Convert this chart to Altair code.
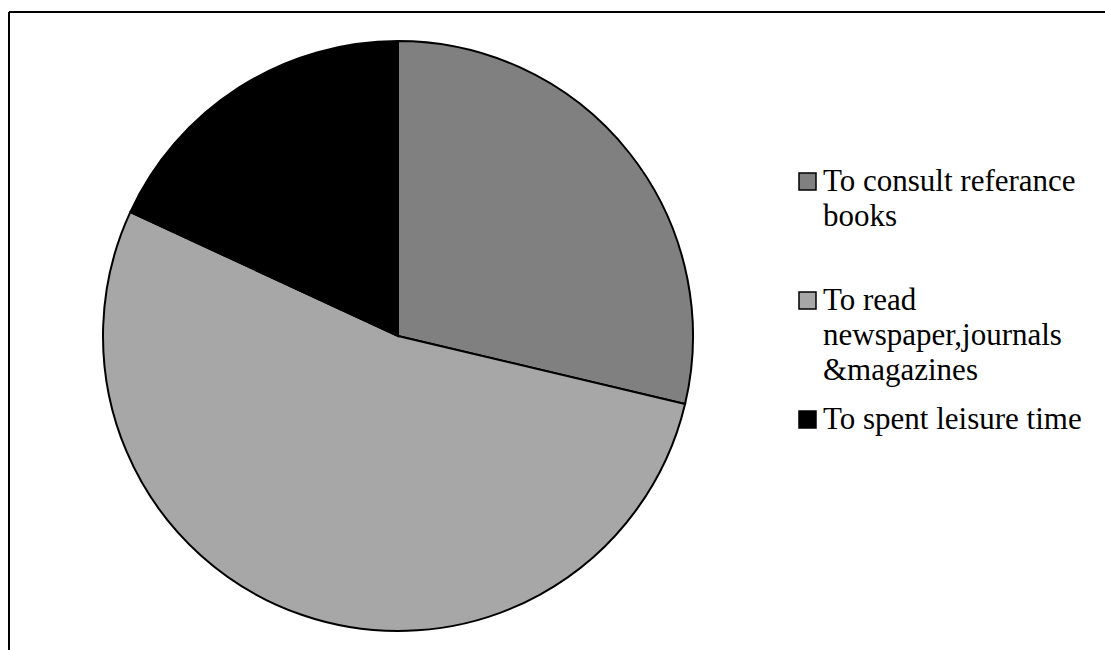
import altair as alt
import pandas as pd

categories = [
    "To consult referance\nbooks",
    "To read\nnewspaper,journals\n&magazines",
    "To spent leisure time",
]
values = [28.7, 53.2, 18.1]
slice_order = [0, 1, 2]
colors = ["#808080", "#a7a7a7", "#000000"]

df = pd.DataFrame({"category": categories, "value": values, "order": slice_order})

label_expr = (
    "indexof(datum.label, 'books') >= 0 "
    "? [split(datum.label, '\\n')[0], split(datum.label, '\\n')[1], ''] "
    ": split(datum.label, '\\n')"
)

pie = alt.Chart(df).mark_arc(radius=295, stroke="#000000", strokeWidth=2).encode(
    theta=alt.Theta("value:Q", stack=True),
    color=alt.Color(
        "category:N",
        sort=categories,
        scale=alt.Scale(domain=categories, range=colors),
        legend=alt.Legend(
            title=None,
            orient="none",
            legendX=792,
            legendY=144,
            symbolType="square",
            symbolSize=289,
            symbolStrokeColor="#000000",
            symbolStrokeWidth=1.5,
            labelFont="Liberation Serif",
            labelFontSize=31,
            labelLimit=400,
            labelOffset=0,
            labelColor="#000000",
            rowPadding=17,
            labelExpr=label_expr,
        ),
    ),
    order=alt.Order("order:Q"),
)

border = alt.Chart(alt.Data(values=[{"a": 1}])).mark_rule(color="#000000", strokeWidth=2).encode(
    x=alt.value(9), x2=alt.value(1105), y=alt.value(-10)
)
border_left = alt.Chart(alt.Data(values=[{"a": 1}])).mark_rule(color="#000000", strokeWidth=2).encode(
    x=alt.value(9), y=alt.value(-10), y2=alt.value(628)
)

chart = alt.layer(pie, border, border_left).properties(
    width=796,
    height=628,
    padding={"left": 0, "top": 22, "right": 310, "bottom": 0},
    autosize=alt.AutoSizeParams(type="none"),
    background="#ffffff",
).configure(style={"guide-label": {"lineHeight": 35}}).configure_view(stroke=None)

chart.save("out.html", embed_options={"renderer": "svg", "actions": False})
